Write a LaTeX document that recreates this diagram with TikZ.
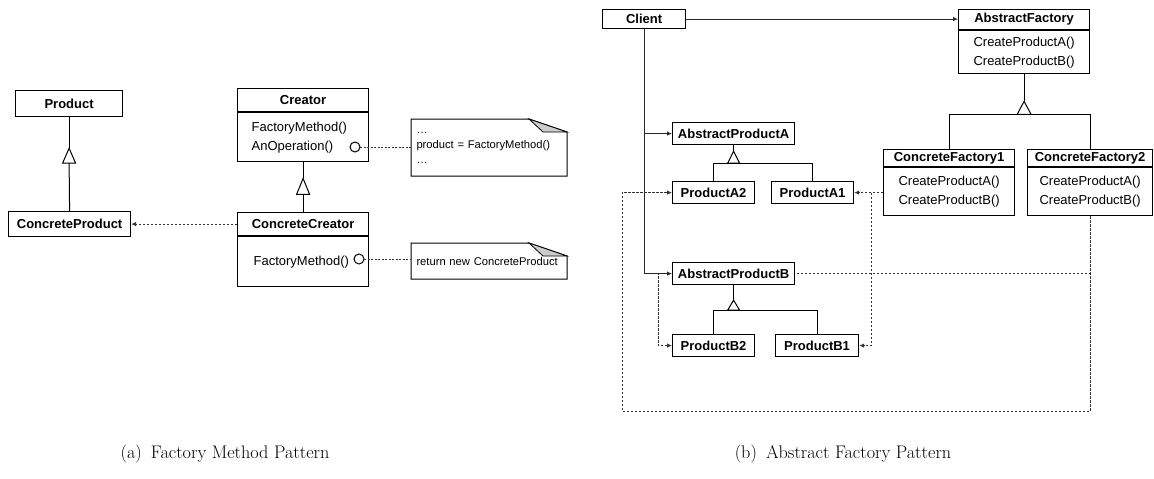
\documentclass[tikz,border=0pt]{standalone}
\usepackage{fontspec}
\setsansfont{Liberation Sans}
\usetikzlibrary{calc,arrows.meta,backgrounds}

\begin{document}
\begin{tikzpicture}[x=1pt, y=-1pt, line width=1pt,
  cls/.style={draw, fill=white, line width=1.2pt, anchor=north west, inner sep=0pt,
    font=\sffamily\bfseries\fontsize{13}{15}\selectfont},
  ops/.style={cls, font=\sffamily\fontsize{13}{19}\selectfont, align=center},
  memo/.style={anchor=north west, inner xsep=5pt, inner ysep=0pt, align=left,
    text width=145pt, font=\sffamily\fontsize{11.2}{15}\selectfont},
  dep/.style={black!80, dash pattern=on 2.5pt off 1.5pt, line width=0.8pt, -{Latex[length=5pt,width=4.5pt]}},
  use/.style={black!85, line width=0.9pt, -{Latex[length=5pt,width=4.5pt]}},
  dot/.style={black!80, dash pattern=on 2pt off 1.5pt, line width=0.8pt},
  tri/.style={fill=white, line width=1pt},
  caption/.style={font=\rmfamily\fontsize{18.2}{22}\selectfont}]

\useasboundingbox (0,0) rectangle (1154,479);

% (a) factory method
\node[cls, minimum width=107, minimum height=26] (prod) at (15,90) {Product};
\node[cls, minimum width=122, minimum height=25] (cprod) at (8,211) {ConcreteProduct};
\node[cls, minimum width=131, minimum height=23] (creat) at (237,88) {Creator};
\node[ops, minimum height=49, align=left, inner xsep=14pt, text width=103pt] (creatb) at (creat.south west) {FactoryMethod()\\AnOperation()};
\node[cls, minimum width=131, minimum height=23] (ccreat) at (237,212) {ConcreteCreator};
\node[ops, minimum height=50, align=left, inner xsep=16pt, text width=99pt] (ccreatb) at (ccreat.south west) {FactoryMethod()\\[4pt]};
\node[memo, minimum height=56] (memo1) at (411,119) {\dots\\product = FactoryMethod()\\\dots};
\node[memo, minimum height=35] (memo2) at (411,243) {return new ConcreteProduct};

\foreach \m in {memo1,memo2}{
  \draw (\m.north west) -- ($(\m.north east)+(-38,0)$) -- ($(\m.north east)+(0,13)$) -- (\m.south east) -- (\m.south west) -- cycle;
  \filldraw[fill=gray!40, line width=0.8pt] ($(\m.north east)+(-38,0)$) -- ($(\m.north east)+(-24,13)$) -- ($(\m.north east)+(0,13)$) -- cycle;
}

\draw (prod.south) -- ++(0,31) coordinate (prodk);
\draw[tri] (prodk) -- ++(-6.5,15) -- ++(13,0) -- cycle;
\draw ($(prodk)+(0,15)$) -- (cprod.north);
\draw (creatb.south) -- ++(0,16) coordinate (creatk);
\draw[tri] (creatk) -- ++(-6.5,16) -- ++(13,0) -- cycle;
\draw ($(creatk)+(0,16)$) -- (ccreat.north);

\draw[dep] (ccreat.west) -- (cprod.east);
\coordinate (op1) at (355,147);
\coordinate (op2) at (359,259);
\draw (op1) circle (5);
\draw (op2) circle (5);
\draw[dot] ($(op1)+(5,0)$) -- (memo1.west |- op1);
\draw[dot] ($(op2)+(5,0)$) -- (memo2.west |- op2);

% (b) abstract factory
\node[cls, minimum width=83, minimum height=19] (client) at (602,9) {Client};
\node[cls, minimum width=131, minimum height=20] (af) at (958,9) {AbstractFactory};
\node[ops, minimum width=131, minimum height=43] (afb) at (af.south west) {CreateProductA()\\CreateProductB()};
\node[cls, minimum width=131, minimum height=17] (cf1) at (883,149) {ConcreteFactory1};
\node[ops, minimum width=131, minimum height=48] (cf1b) at (cf1.south west) {CreateProductA()\\CreateProductB()};
\node[cls, minimum width=125, minimum height=17] (cf2) at (1027,149) {ConcreteFactory2};
\node[ops, minimum width=125, minimum height=48] (cf2b) at (cf2.south west) {CreateProductA()\\CreateProductB()};
\node[cls, minimum width=122, minimum height=22] (apa) at (672,122) {AbstractProductA};
\node[cls, minimum width=82, minimum height=22] (pa2) at (672,181) {ProductA2};
\node[cls, minimum width=82, minimum height=22] (pa1) at (771,181) {ProductA1};
\node[cls, minimum width=122, minimum height=22] (apb) at (672,262) {AbstractProductB};
\node[cls, minimum width=82, minimum height=22] (pb2) at (672,334) {ProductB2};
\node[cls, minimum width=83, minimum height=22] (pb1) at (775,334) {ProductB1};

\draw[use] (client.east) -- (client.east -| af.west);
\draw[use] (client.south) |- (apa.west);
\draw[use] (client.south) |- (apb.west);

\draw (afb.south) -- ++(0,27) coordinate (afk);
\draw[tri] (afk) -- ++(-7,13) -- ++(14,0) -- cycle;
\draw (cf1.north) |- ($(afk)+(0,13)$) -| (cf2.north);
\draw (apa.south) -- ++(0,6) coordinate (apak);
\draw[tri] (apak) -- ++(-6,12) -- ++(12,0) -- cycle;
\draw (pa2.north) |- ($(apak)+(0,12)$) -| (pa1.north);
\draw (apb.south) -- ++(0,15) coordinate (apbk);
\draw[tri] (apbk) -- ++(-6,10) -- ++(12,0) -- cycle;
\draw (pb2.north) |- ($(apbk)+(0,10)$) -| (pb1.north);

\begin{scope}[on background layer]
\draw[dep] (cf1b.west |- pa1) -- (pa1);
\draw[dep] ($(cf1b.west |- pa1)+(-12,0)$) |- (pb1.east);
\draw[dep] (cf2b.south) |- ++(-468,195) |- (pa2.west);
\draw[dep] (cf2b.south) |- ($(apb.west)+(-14,0)$) |- (pb2.west);
\end{scope}

\node[caption] (capa) at (225,454) {(a)\enspace Factory Method Pattern};
\node[caption] (capb) at (843,454) {(b)\enspace Abstract Factory Pattern};
\end{tikzpicture}
\end{document}
